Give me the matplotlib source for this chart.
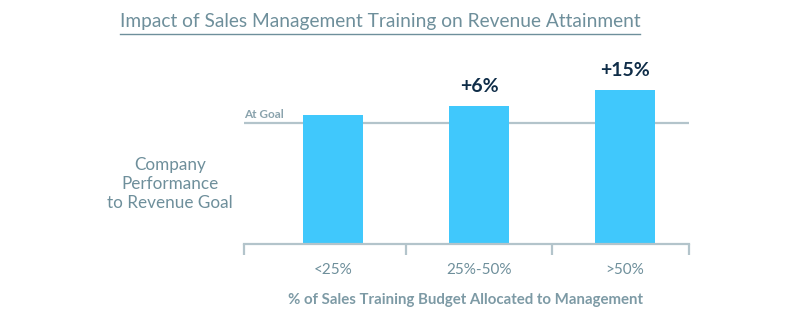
import matplotlib
matplotlib.use("Agg")
from matplotlib import pyplot as plt

# data (goal = 100)
categories = ["<25%", "25%-50%", ">50%"]
performance = [106.1, 113.8, 127.2]
goal = 100
bar_labels = ["", "+6%", "+15%"]

title = "Impact of Sales Management Training on Revenue Attainment"
y_label = "Company\nPerformance\nto Revenue Goal"
x_label = "% of Sales Training Budget Allocated to Management"

plt.rcParams["font.family"] = ["Lato", "DejaVu Sans"]

W, H = 800, 330
fig = plt.figure(figsize=(W / 100, H / 100), dpi=100)

# axes in pixel space: x 244..689, y 40..244 (from top)
ax = fig.add_axes([244 / W, (H - 244) / H, (689 - 244) / W, (244 - 40) / H])

bar_color = "#40c8fc"
line_color = "#b3c4cb"
text_color = "#6e8f9b"
label_color = "#0f2d48"

x = list(range(len(categories)))
ax.bar(x, performance, width=0.41, color=bar_color, zorder=3)
ax.axhline(goal, color=line_color, lw=1.6, zorder=1)

for xi, v, lab in zip(x, performance, bar_labels):
    if lab:
        ax.annotate(lab, (xi, v), xytext=(0, 8), textcoords="offset points",
                    ha="center", va="bottom", fontsize=14, fontweight="bold",
                    color=label_color)

ax.text(-0.61, goal + 2.5, "At Goal", ha="left", va="bottom", fontsize=8.5,
        fontweight="bold", color="#8aa3ad")

ax.set_xlim(-0.61, 2.438)
ax.set_ylim(0, 168.2)

for s in ["top", "right", "left"]:
    ax.spines[s].set_visible(False)
ax.spines["bottom"].set_color(line_color)
ax.spines["bottom"].set_linewidth(1.6)
ax.spines["bottom"].set_zorder(4)

ax.set_yticks([])
ax.set_xticks(x)
ax.set_xticklabels(categories, fontsize=11, color=text_color)
ax.tick_params(axis="x", which="major", length=0, pad=14)
ax.set_xticks([-0.61, 0.5, 1.5, 2.438], minor=True)
ax.tick_params(axis="x", which="minor", length=8, width=1.6, color=line_color,
               direction="out")

fig.text(170 / W, 1 - 184 / H, y_label, ha="center", va="center",
         fontsize=12.3, color=text_color, linespacing=1.2)
fig.text(466 / W, 1 - 300 / H, x_label, ha="center", va="center",
         fontsize=10.8, fontweight="bold", color="#7d9aa5")

t = fig.text(380 / W, 1 - 21 / H, title, ha="center", va="center",
             fontsize=13.8, color=text_color)

# underline for the title
fig.canvas.draw()
bb = t.get_window_extent()
fig.add_artist(plt.Line2D([bb.x0 / W, bb.x1 / W], [1 - 34 / H, 1 - 34 / H],
                          color=text_color, lw=1.0))

fig.savefig("out.png", dpi=100)
